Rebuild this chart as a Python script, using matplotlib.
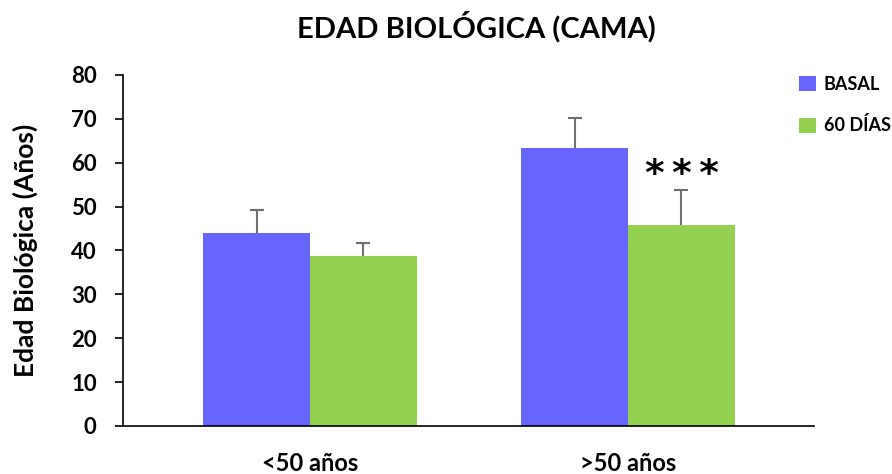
import matplotlib.pyplot as plt
import numpy as np

plt.rcParams['font.family'] = ['Lato', 'DejaVu Sans']
plt.rcParams['font.weight'] = 'bold'

categories = ['<50 años', '>50 años']
series = ['BASAL', '60 DÍAS']
basal = [44.0, 63.3]
basal_err = [5.2, 6.9]
dias60 = [38.7, 45.8]
dias60_err = [3.0, 8.0]
colors = ['#6666FF', '#92D050']

fig = plt.figure(figsize=(8.92, 4.74), dpi=100)
ax = fig.add_axes([0.138, 0.1013, 0.7746, 0.7405])

x = np.arange(len(categories))
w = 0.336
ekw = dict(ecolor='#707070', elinewidth=1.5, capsize=5, capthick=1.5)
b1 = ax.bar(x - w / 2, basal, w, color=colors[0], label=series[0],
            yerr=[np.zeros(2), basal_err], error_kw=ekw)
b2 = ax.bar(x + w / 2, dias60, w, color=colors[1], label=series[1],
            yerr=[np.zeros(2), dias60_err], error_kw=ekw)
# only the upper caps
for b in (b1, b2):
    b.errorbar.lines[1][0].set_visible(False)

# significance mark
ax.text(1 + w / 2, 55, '*\u2009*\u2009*', ha='center', va='baseline',
        fontsize=27, family='DejaVu Sans', fontweight='bold')

ax.set_xlim(-0.588, 1.585)
ax.set_ylim(0, 80)
ax.set_yticks(range(0, 81, 10))
ax.set_xticks(x)
ax.set_xticklabels(categories, fontsize=17, fontweight='bold')
ax.tick_params(axis='x', length=0, pad=19)
ax.tick_params(axis='y', labelsize=16, length=6, width=1.2, pad=13,
               direction='out')
for lab in ax.get_yticklabels():
    lab.set_fontweight('bold')
for s in ['top', 'right']:
    ax.spines[s].set_visible(False)
ax.spines['left'].set_linewidth(1.2)
ax.spines['bottom'].set_linewidth(1.2)
ax.spines['bottom'].set_bounds(-0.588, 1.585)

ax.set_ylabel('Edad Biológica (Años)', fontsize=19, fontweight='bold', labelpad=24)
fig.text(0.534, 0.943, 'EDAD BIOLÓGICA (CAMA)', ha='center', va='center',
         fontsize=21, fontweight='bold')

fig.legend(handles=[b1, b2], labels=series, loc='upper left',
           bbox_to_anchor=(0.888, 0.855), frameon=False,
           prop=dict(size=13, weight='bold'),
           handlelength=0.9, handleheight=0.9, labelspacing=1.3,
           handletextpad=0.45, borderaxespad=0)

fig.savefig('out.png', dpi=100)
